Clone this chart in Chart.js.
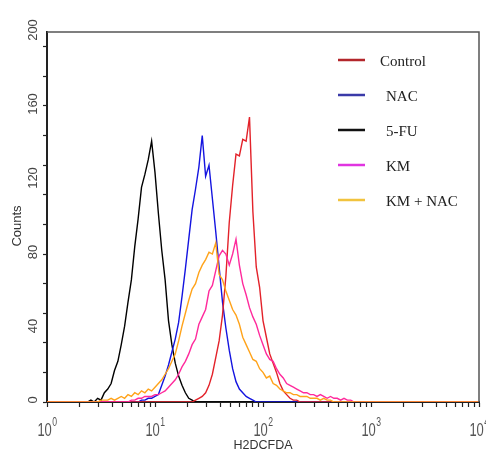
<!DOCTYPE html>
<html>
<head>
<meta charset="utf-8">
<script src="https://cdn.jsdelivr.net/npm/chart.js@4/dist/chart.umd.min.js"></script>
<style>
  html, body { margin: 0; padding: 0; background: #fff; }
  canvas { display: block; }
</style>
</head>
<body>
<canvas id="c" width="486" height="454"></canvas>
<script>
// ---- Data (H2DCFDA fluorescence histograms, 32 channels per decade, 10^0..10^4) ----
const channelsPerDecade = 32;
const seriesNames = ['Control', 'NAC', '5-FU', 'KM', 'KM + NAC'];
const yAxisTitle = 'Counts';
const xAxisTitle = 'H2DCFDA';

const control = [
  0,0,0,0,0,0,0,0,0,0,0,0,0,0,0,0,
  0,0,0,0,0,0,0,0,0,0,0,0,0,0,0,0,
  0,0,0,0,0,0,0,0,0,0,0,0,1,2,3,5,
  9,15,24,33,47,68,97,117,134,133,142,141,154,103,73,62,
  44,35,26,21,16,10,6,4,2,1,1,0,0,0,0,0,
  0,0,0,0,0,0,0,0,0,0,0,0,0,0,0,0,
  0,0,0,0,0,0,0,0,0,0,0,0,0,0,0,0,
  0,0,0,0,0,0,0,0,0,0,0,0,0,0,0,0,
  0
];
const nac = [
  0,0,0,0,0,0,0,0,0,0,0,0,0,0,0,0,
  0,0,0,0,0,0,0,0,0,0,0,0,1,1,2,2,
  3,4,9,14,20,27,34,43,57,72,88,104,115,127,144,122,
  128,110,92,73,54,40,28,18,11,7,5,3,2,1,0,0,
  0,0,0,0,0,0,0,0,0,0,0,0,0,0,0,0,
  0,0,0,0,0,0,0,0,0,0,0,0,0,0,0,0,
  0,0,0,0,0,0,0,0,0,0,0,0,0,0,0,0,
  0,0,0,0,0,0,0,0,0,0,0,0,0,0,0,0,
  0
];
const fiveFU = [
  0,0,0,0,0,0,0,0,0,0,0,0,0,1,0,2,
  1,5,7,10,17,22,31,41,54,66,84,99,116,123,131,141,
  124,102,82,66,44,31,21,14,9,5,2,1,0,0,0,0,
  0,0,0,0,0,0,0,0,0,0,0,0,0,0,0,0,
  0,0,0,0,0,0,0,0,0,0,0,0,0,0,0,0,
  0,0,0,0,0,0,0,0,0,0,0,0,0,0,0,0,
  0,0,0,0,0,0,0,0,0,0,0,0,0,0,0,0,
  0,0,0,0,0,0,0,0,0,0,0,0,0,0,0,0,
  0
];
const km = [
  0,0,0,0,0,0,0,0,0,0,0,0,0,0,0,0,
  0,0,0,0,0,0,0,0,0,1,1,2,2,3,3,3,
  4,4,5,6,8,10,12,15,19,22,26,31,34,42,46,50,
  60,63,71,79,82,80,74,80,88,74,64,58,51,46,42,36,
  31,26,23,22,18,15,13,10,9,8,7,6,5,5,4,4,
  3,4,3,2,3,2,2,1,2,1,1,0,0,0,0,0,
  0,0,0,0,0,0,0,0,0,0,0,0,0,0,0,0,
  0,0,0,0,0,0,0,0,0,0,0,0,0,0,0,0,
  0
];
const kmNac = [
  0,0,0,0,0,0,0,0,0,0,0,0,0,0,0,0,
  1,1,1,2,1,2,3,2,4,3,5,4,6,5,7,6,
  8,10,12,15,18,22,26,33,41,48,55,61,64,70,74,77,
  81,80,86,69,66,60,55,50,47,42,35,31,27,23,22,18,
  16,13,14,10,9,7,6,5,5,4,4,3,3,3,2,2,
  2,1,2,1,1,0,0,0,0,0,0,0,0,0,0,0,
  0,0,0,0,0,0,0,0,0,0,0,0,0,0,0,0,
  0,0,0,0,0,0,0,0,0,0,0,0,0,0,0,0,
  0
];

const xExponents = [0, 1, 2, 3, 4];
const xMinorMultipliers = [2, 3, 4, 5, 6, 7, 8, 9];
const yLabelValues = [0, 40, 80, 120, 160, 200];
const yMinorStep = 8;

// ---- styles ----
const curveColors = ['#e3222a', '#1414e0', '#000000', '#ff2a9c', '#ffa31a'];
const legendColors = ['#b3262b', '#3a3aa8', '#111111', '#e034e0', '#f1c33e'];
const drawOrder = [2, 3, 4, 1, 0]; // lower = drawn on top

const toPoints = arr => arr.map((v, i) => ({ x: Math.pow(10, i / channelsPerDecade), y: v }));
const allSeries = [control, nac, fiveFU, km, kmNac];

const datasets = allSeries.map((s, k) => ({
  label: seriesNames[k],
  data: toPoints(s),
  borderColor: curveColors[k],
  backgroundColor: curveColors[k],
  borderWidth: 1.4,
  pointRadius: 0,
  tension: 0,
  fill: false,
  order: drawOrder[k]
}));

const sansFamily = '"Liberation Sans", Arial, sans-serif';
const serifFamily = '"Liberation Serif", "Times New Roman", serif';

const decor = {
  id: 'decor',
  beforeDraw(chart) {
    const c = chart.ctx;
    c.save();
    c.fillStyle = '#fff';
    c.fillRect(0, 0, chart.width, chart.height);
    c.restore();
  },
  afterDraw(chart) {
    const c = chart.ctx;
    const a = chart.chartArea;
    const xs = chart.scales.x, ys = chart.scales.y;
    c.save();
    // frame (top and right)
    c.strokeStyle = '#555';
    c.lineWidth = 1.5;
    c.beginPath();
    c.moveTo(a.left, a.top);
    c.lineTo(a.right, a.top);
    c.lineTo(a.right, a.bottom);
    c.stroke();

    // y labels (rotated)
    c.fillStyle = '#444';
    c.font = '13px ' + sansFamily;
    c.textAlign = 'center';
    c.textBaseline = 'middle';
    yLabelValues.forEach(v => {
      const py = ys.getPixelForValue(v);
      c.save();
      c.translate(33, py - 2);
      c.rotate(-Math.PI / 2);
      c.fillText(String(v), 0, 0);
      c.restore();
    });

    // y axis title
    c.fillStyle = '#333';
    c.save();
    c.translate(17, (a.top + a.bottom) / 2 + 9);
    c.rotate(-Math.PI / 2);
    c.fillText(yAxisTitle, 0, 0);
    c.restore();

    // x labels 10^n
    c.fillStyle = '#555';
    c.textAlign = 'left';
    c.textBaseline = 'alphabetic';
    const sx = 0.72;
    xExponents.forEach(e => {
      const px = xs.getPixelForValue(Math.pow(10, e));
      c.font = '18px ' + sansFamily;
      const w1 = c.measureText('10').width * sx;
      c.font = '12px ' + sansFamily;
      const w2 = c.measureText(String(e)).width * sx;
      const start = px - (w1 + w2) / 2;
      c.save();
      c.translate(start, 436);
      c.scale(sx, 1);
      c.font = '18px ' + sansFamily;
      c.fillText('10', 0, 0);
      c.restore();
      c.save();
      c.translate(start + w1 + 0.5, 426);
      c.scale(sx, 1);
      c.font = '12px ' + sansFamily;
      c.fillText(String(e), 0, 0);
      c.restore();
    });

    // legend
    c.font = '15px ' + serifFamily;
    c.textBaseline = 'middle';
    c.textAlign = 'left';
    seriesNames.forEach((name, k) => {
      const ly = 60 + k * 35;
      c.strokeStyle = legendColors[k];
      c.lineWidth = 2.5;
      c.beginPath();
      c.moveTo(338, ly);
      c.lineTo(365, ly);
      c.stroke();
      c.fillStyle = '#222';
      c.fillText(name, k === 0 ? 380 : 386, ly + 2);
    });
    c.restore();
  }
};

new Chart(document.getElementById('c'), {
  type: 'line',
  data: { datasets },
  plugins: [decor],
  options: {
    responsive: false,
    animation: false,
    devicePixelRatio: 1,
    layout: { padding: { top: 32, right: 7, left: 0, bottom: 0 } },
    plugins: { legend: { display: false }, tooltip: { enabled: false } },
    scales: {
      x: {
        type: 'logarithmic',
        min: 1,
        max: 10000,
        afterBuildTicks: s => {
          const t = [];
          xExponents.forEach(e => {
            t.push({ value: Math.pow(10, e) });
            if (e < 4) xMinorMultipliers.forEach(m => t.push({ value: m * Math.pow(10, e) }));
          });
          s.ticks = t;
        },
        afterFit: s => { s.height = 52; },
        ticks: { callback: () => '', autoSkip: false, maxRotation: 0, minRotation: 0 },
        grid: { drawOnChartArea: false, drawTicks: true, tickLength: 5, tickColor: '#222', tickWidth: 1.2 },
        border: { display: true, color: '#222', width: 2 },
        title: {
          display: true, text: xAxisTitle, color: '#333',
          font: { size: 12.5, family: sansFamily },
          padding: { top: 0, bottom: 1 }
        }
      },
      y: {
        type: 'linear',
        min: 0,
        max: 200,
        afterBuildTicks: s => {
          const t = [];
          for (let v = 0; v <= 200; v += yMinorStep) t.push({ value: v });
          s.ticks = t;
        },
        afterFit: s => { s.width = 47; },
        ticks: { callback: () => '' },
        grid: { drawOnChartArea: false, drawTicks: true, tickLength: 4, tickColor: '#222', tickWidth: 1.2 },
        border: { display: true, color: '#222', width: 2 },
        title: { display: false }
      }
    }
  }
});
</script>
</body>
</html>
